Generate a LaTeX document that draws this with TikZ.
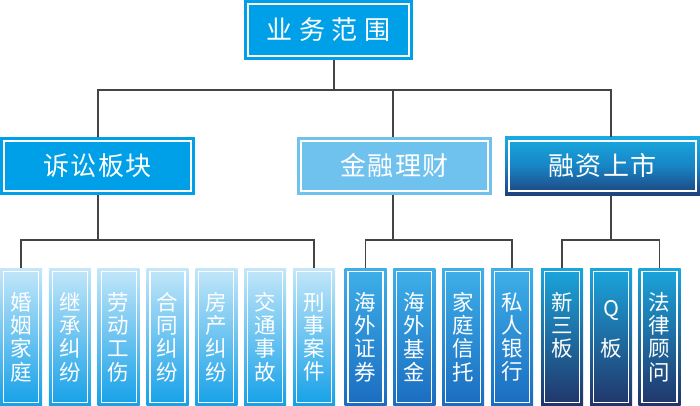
\documentclass[tikz,border=0pt]{standalone}
\usepackage{fontspec}
\newfontfamily\cjk{Noto Sans CJK SC}
\definecolor{ctop}{RGB}{0,160,233}
\definecolor{cfin}{RGB}{112,194,238}
\definecolor{cipoT}{RGB}{24,170,224}
\definecolor{cipoM}{RGB}{24,132,196}
\definecolor{cipoB}{RGB}{30,66,124}
\definecolor{clitT}{RGB}{196,231,249}
\definecolor{clitB}{RGB}{20,160,232}
\definecolor{cfinT}{RGB}{62,176,233}
\definecolor{cfinB}{RGB}{26,108,192}
\definecolor{cleafT}{RGB}{26,166,221}
\definecolor{cleafB}{RGB}{34,52,104}
\definecolor{linec}{RGB}{68,68,68}
\tikzset{
  inframe/.style={path picture={\draw[white,line width=1.1pt]
      ([shift={(#1,-#1)}]path picture bounding box.north west) rectangle
      ([shift={(-#1,#1)}]path picture bounding box.south east);}},
  box/.style={inner sep=0pt, outer sep=0pt, text=white},
  topbox/.style={box, fill=ctop, minimum width=169pt, minimum height=60pt, inframe=4pt,
      font=\cjk\fontsize{26pt}{30pt}\selectfont},
  midbox/.style={box, minimum width=195pt, minimum height=58pt, inframe=4pt,
      font=\cjk\fontsize{26pt}{30pt}\selectfont},
  leaf/.style={box, minimum width=42pt, minimum height=138pt, inframe=3.5pt, align=center,
      font=\cjk\fontsize{21.5pt}{23.3pt}\selectfont},
  litleaf/.style={leaf, top color=clitT, bottom color=clitB},
  finleaf/.style={leaf, top color=cfinT, bottom color=cfinB},
  ipoleaf/.style={leaf, top color=cleafT, bottom color=cleafB},
  conn/.style={draw=linec, line width=1.4pt}
}
\begin{document}
\begin{tikzpicture}[x=1pt,y=-1pt]
\useasboundingbox (0,0) rectangle (700,406);
% top
\node[topbox] (top) at (328.5,30) {业\hspace{6.5pt}务\hspace{6.5pt}范\hspace{6.5pt}围};
% level 2
\node[midbox, fill=ctop] (lit) at (97.5,166) {诉\hspace{1.5pt}讼\hspace{1.5pt}板\hspace{1.5pt}块};
\node[midbox, fill=cfin] (fin) at (394.5,166) {金\hspace{1.5pt}融\hspace{1.5pt}理\hspace{1.5pt}财};
\node[midbox, top color=cipoT, bottom color=cipoB, middle color=cipoM] (ipo) at (602.5,166) {融\hspace{1.5pt}资\hspace{1.5pt}上\hspace{1.5pt}市};
% leaves
\node[litleaf] (l1) at (21,337) {婚\\姻\\家\\庭};
\node[litleaf] (l2) at (69.8,337) {继\\承\\纠\\纷};
\node[litleaf] (l3) at (118.7,337) {劳\\动\\工\\伤};
\node[litleaf] (l4) at (167.5,337) {合\\同\\纠\\纷};
\node[litleaf] (l5) at (216.3,337) {房\\产\\纠\\纷};
\node[litleaf] (l6) at (265.2,337) {交\\通\\事\\故};
\node[litleaf] (l7) at (314,337) {刑\\事\\案\\件};
\node[finleaf] (f1) at (365.5,337) {海\\外\\证\\券};
\node[finleaf] (f2) at (414.3,337) {海\\外\\基\\金};
\node[finleaf] (f3) at (463.2,337) {家\\庭\\信\\托};
\node[finleaf] (f4) at (512,337) {私\\人\\银\\行};
\node[ipoleaf] (i1) at (562,337) {新\\三\\板\\\phantom{板}};
\node[ipoleaf] (i2) at (611,337) {\rule{0pt}{17pt}\raisebox{-7pt}[0pt][0pt]{Q}\\\phantom{板}\\板\\\phantom{板}};
\node[ipoleaf] (i3) at (659.5,337) {法\\律\\顾\\问};
% junctions
\coordinate (j0) at (334,90);
\coordinate (j1) at (98,240);
\coordinate (j2) at (393,240);
\coordinate (j3) at (611,240);
% connectors
\draw[conn] (top.south -| j0) -- (j0);
\draw[conn] (lit.north -| j1) |- (j0) -| (ipo.north -| j3);
\draw[conn] (fin.north -| j2) -- (j0 -| j2);
\draw[conn] (lit.south -| j1) -- (j1);
\draw[conn] (l1.north) |- (j1) -| (l7.north);
\draw[conn] (fin.south -| j2) -- (j2);
\draw[conn] (f1.north) |- (j2) -| (f4.north);
\draw[conn] (ipo.south -| j3) -- (j3);
\draw[conn] (i1.north) |- (j3) -| (i3.north);
\end{tikzpicture}
\end{document}
